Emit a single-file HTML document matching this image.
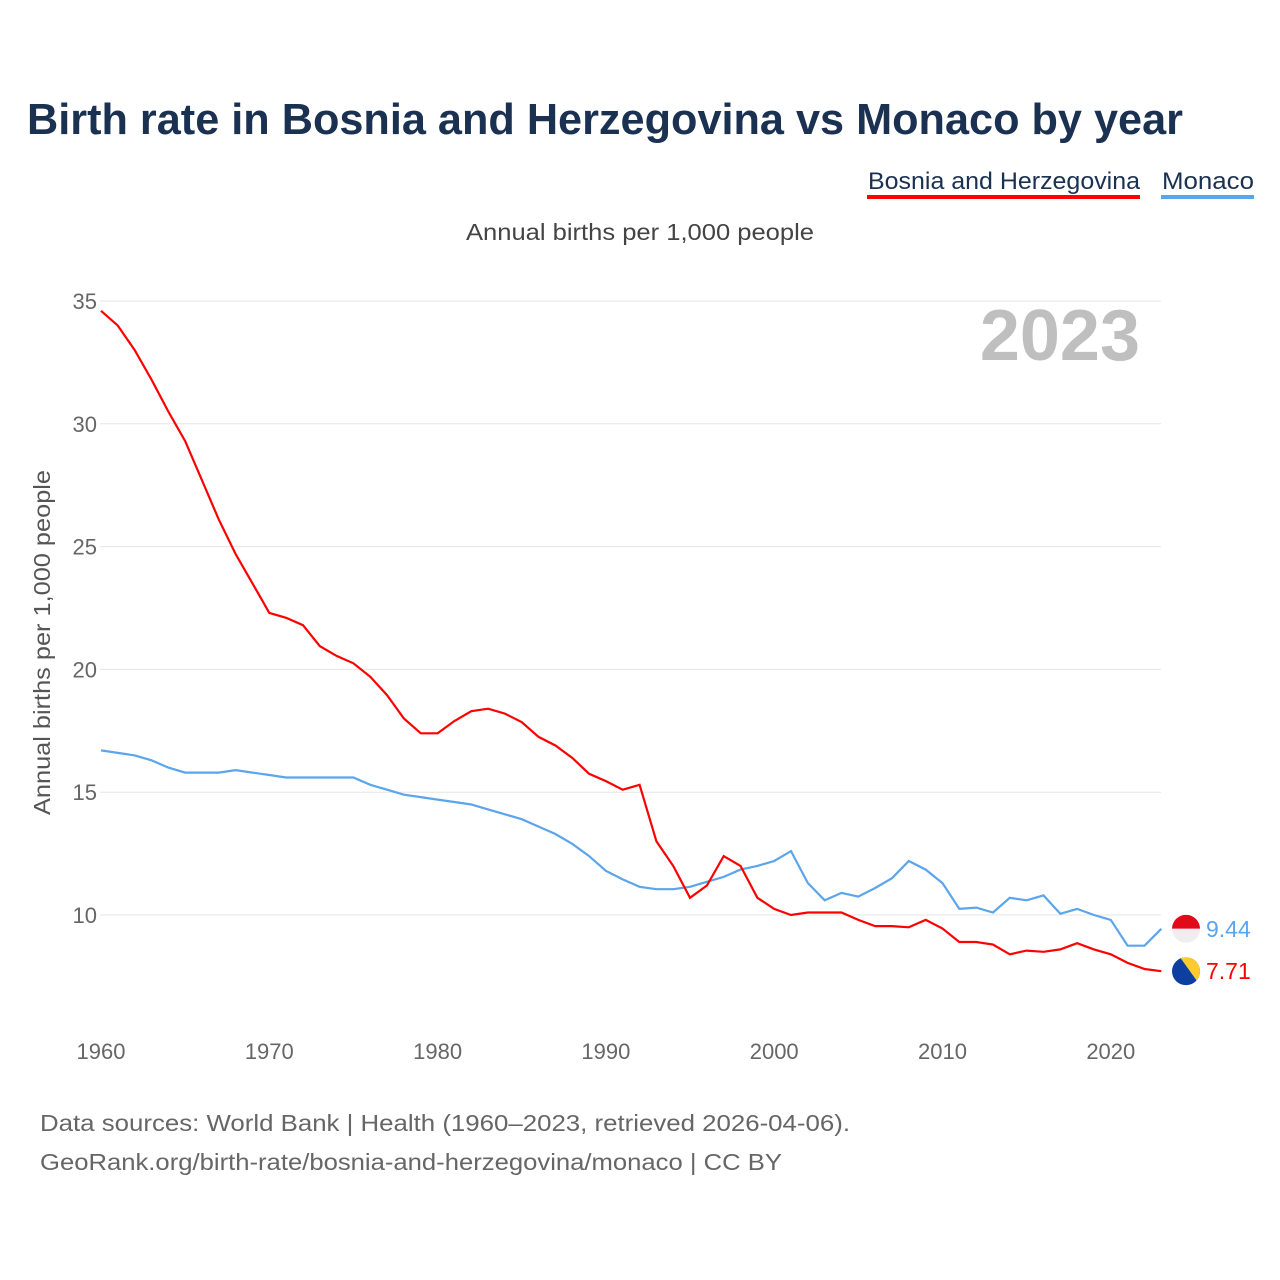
<!DOCTYPE html>
<html><head><meta charset="utf-8"><style>
body{margin:0;background:#fff;font-family:"Liberation Sans",sans-serif;}
#wrap{position:relative;width:1280px;height:1280px;overflow:hidden;}
</style></head><body><div id="wrap">
<svg id="chart" width="1280" height="1280">
<text x="27" y="134" font-size="44" font-weight="bold" fill="#1b3152" textLength="1156" lengthAdjust="spacingAndGlyphs">Birth rate in Bosnia and Herzegovina vs Monaco by year</text>
<g><text x="868" y="189" font-size="24" fill="#1b3152" textLength="272" lengthAdjust="spacingAndGlyphs">Bosnia and Herzegovina</text><rect x="867" y="195" width="273" height="4" fill="#ff0000"/></g>
<g><text x="1162" y="189" font-size="24" fill="#1b3152" textLength="92" lengthAdjust="spacingAndGlyphs">Monaco</text><rect x="1161" y="195" width="93" height="4" fill="#5aa5ec"/></g>
<text x="466" y="240" font-size="23" fill="#444" textLength="348" lengthAdjust="spacingAndGlyphs">Annual births per 1,000 people</text>
<text transform="translate(50,815) rotate(-90)" font-size="23" fill="#555" textLength="345" lengthAdjust="spacingAndGlyphs">Annual births per 1,000 people</text>
<text x="1140" y="360" font-size="72" font-weight="bold" fill="#bfbfbf" text-anchor="end">2023</text>
<g id="grid"></g><g id="lines"></g>
<text x="40" y="1131" font-size="23" fill="#666" textLength="810" lengthAdjust="spacingAndGlyphs">Data sources: World Bank | Health (1960–2023, retrieved 2026-04-06).</text>
<text x="40" y="1170" font-size="23" fill="#666" textLength="742" lengthAdjust="spacingAndGlyphs">GeoRank.org/birth-rate/bosnia-and-herzegovina/monaco | CC BY</text>
</svg></div>
<script>
const years=[];for(let y=1960;y<=2023;y++)years.push(y);
const bosnia=[34.6,34.0,33.0,31.8,30.5,29.3,27.7,26.1,24.7,23.5,22.3,22.1,21.8,20.95,20.55,20.25,19.7,18.95,18.0,17.4,17.4,17.9,18.3,18.4,18.2,17.85,17.25,16.9,16.4,15.75,15.45,15.1,15.3,13.0,12.0,10.7,11.2,12.4,12.0,10.7,10.25,10.0,10.1,10.1,10.1,9.8,9.55,9.55,9.5,9.8,9.45,8.9,8.9,8.8,8.4,8.55,8.5,8.6,8.85,8.6,8.4,8.05,7.8,7.71];
const monaco=[16.7,16.6,16.5,16.3,16.0,15.8,15.8,15.8,15.9,15.8,15.7,15.6,15.6,15.6,15.6,15.6,15.3,15.1,14.9,14.8,14.7,14.6,14.5,14.3,14.1,13.9,13.6,13.3,12.9,12.4,11.8,11.45,11.15,11.05,11.05,11.15,11.35,11.55,11.85,12.0,12.2,12.6,11.3,10.6,10.9,10.75,11.1,11.5,12.2,11.85,11.3,10.25,10.3,10.1,10.7,10.6,10.8,10.05,10.25,10.0,9.8,8.75,8.75,9.44];
const yTicks=[10,15,20,25,30,35];
const xTicks=[1960,1970,1980,1990,2000,2010,2020];
const NS='http://www.w3.org/2000/svg';
const X=v=>101+(v-1960)*16.83;
const Y=v=>915-(v-10)*24.56;
const grid=document.getElementById('grid'),lines=document.getElementById('lines');
function mk(t,a,p){const e=document.createElementNS(NS,t);for(const k in a)e.setAttribute(k,a[k]);p.appendChild(e);return e;}
yTicks.forEach(v=>{
const l=mk('line',{x1:100,x2:1161,y1:Y(v),y2:Y(v),stroke:'#e6e6e6','stroke-width':1},grid);


const t=mk('text',{x:97,y:Y(v)+8,'font-size':22,fill:'#666','text-anchor':'end'},grid);t.textContent=v;


});
xTicks.forEach(v=>{
const t=mk('text',{x:X(v),y:1059,'font-size':22,fill:'#666','text-anchor':'middle'},grid);t.textContent=v;


});
function line(d,c,n){const p=mk('path',{d:d.map((v,i)=>(i?'L':'M')+X(years[i]).toFixed(1)+','+Y(v).toFixed(1)).join(''),fill:'none',stroke:c,'stroke-width':2.2},lines);

}
line(monaco,'#5aa5ec','monaco-line');
line(bosnia,'#ff0000','bosnia-line');
const lm=monaco[monaco.length-1],lb=bosnia[bosnia.length-1];
const fx=1186;
const cm=mk('clipPath',{id:'cm'},lines);mk('circle',{cx:fx,cy:Y(lm),r:14},cm);
const fm=mk('g',{'clip-path':'url(#cm)'},lines);


mk('rect',{x:fx-14,y:Y(lm)-14,width:28,height:14,fill:'#e20919'},fm);
mk('rect',{x:fx-14,y:Y(lm),width:28,height:14,fill:'#eee'},fm);
const cb=mk('clipPath',{id:'cb'},lines);mk('circle',{cx:fx,cy:Y(lb),r:14},cb);
const fb=mk('g',{'clip-path':'url(#cb)'},lines);


mk('rect',{x:fx-14,y:Y(lb)-14,width:28,height:28,fill:'#0d3fa0'},fb);
mk('polygon',{points:`${fx-6},${Y(lb)-14} ${fx+14},${Y(lb)-14} ${fx+14},${Y(lb)+14}`,fill:'#fecb2e'},fb);
const tm=mk('text',{x:1206,y:Y(lm)+8,'font-size':23,fill:'#5aa5ec'},lines);tm.textContent=lm.toFixed(2);


const tb=mk('text',{x:1206,y:Y(lb)+8,'font-size':23,fill:'#ff0000'},lines);tb.textContent=lb.toFixed(2);


</script></body></html>
